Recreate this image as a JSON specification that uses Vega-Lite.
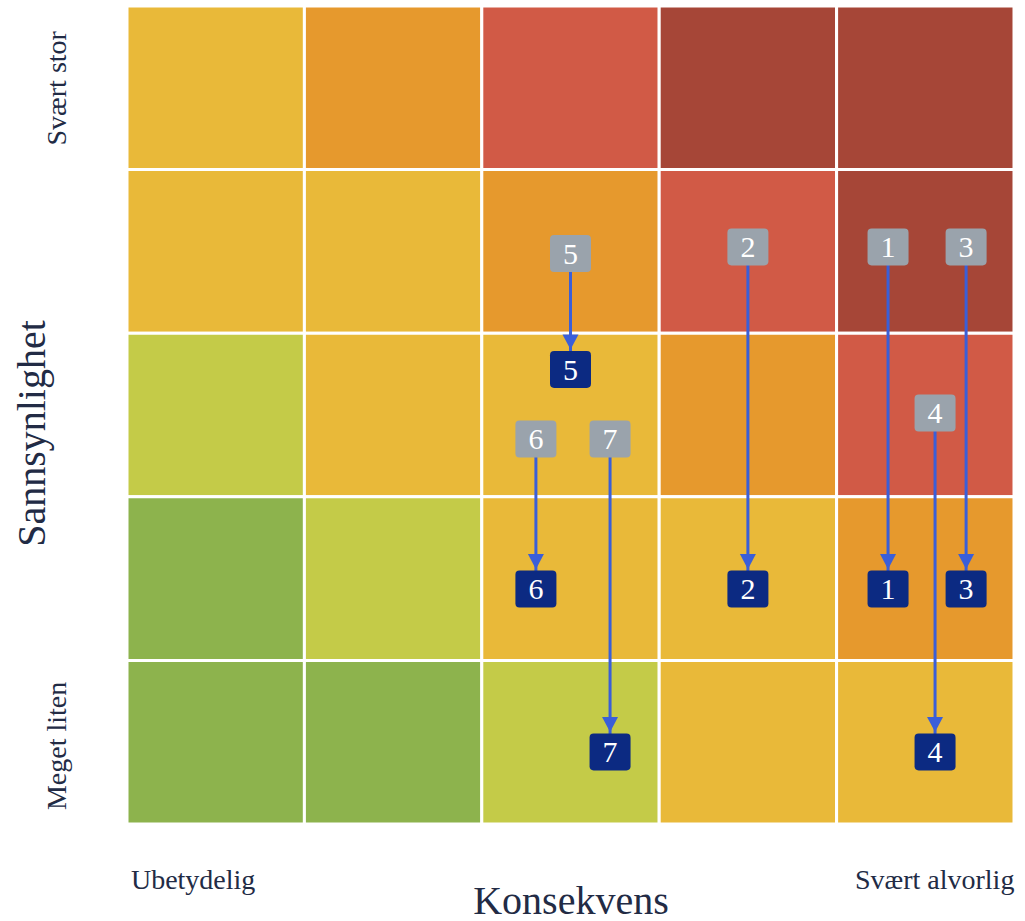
{
  "$schema": "https://vega.github.io/schema/vega-lite/v6.json",
  "width": 887,
  "height": 818,
  "autosize": {"type": "none"},
  "padding": {"left": 127, "top": 6, "right": 11, "bottom": 97},
  "background": "white",
  "config": {"view": {"stroke": null}, "font": "Liberation Serif"},
  "datasets": {
    "cells": [
      {"c_lo": 0, "c_hi": 1, "l_lo": 4, "l_hi": 5, "level": 3},
      {"c_lo": 1, "c_hi": 2, "l_lo": 4, "l_hi": 5, "level": 4},
      {"c_lo": 2, "c_hi": 3, "l_lo": 4, "l_hi": 5, "level": 5},
      {"c_lo": 3, "c_hi": 4, "l_lo": 4, "l_hi": 5, "level": 6},
      {"c_lo": 4, "c_hi": 5, "l_lo": 4, "l_hi": 5, "level": 6},
      {"c_lo": 0, "c_hi": 1, "l_lo": 3, "l_hi": 4, "level": 3},
      {"c_lo": 1, "c_hi": 2, "l_lo": 3, "l_hi": 4, "level": 3},
      {"c_lo": 2, "c_hi": 3, "l_lo": 3, "l_hi": 4, "level": 4},
      {"c_lo": 3, "c_hi": 4, "l_lo": 3, "l_hi": 4, "level": 5},
      {"c_lo": 4, "c_hi": 5, "l_lo": 3, "l_hi": 4, "level": 6},
      {"c_lo": 0, "c_hi": 1, "l_lo": 2, "l_hi": 3, "level": 2},
      {"c_lo": 1, "c_hi": 2, "l_lo": 2, "l_hi": 3, "level": 3},
      {"c_lo": 2, "c_hi": 3, "l_lo": 2, "l_hi": 3, "level": 3},
      {"c_lo": 3, "c_hi": 4, "l_lo": 2, "l_hi": 3, "level": 4},
      {"c_lo": 4, "c_hi": 5, "l_lo": 2, "l_hi": 3, "level": 5},
      {"c_lo": 0, "c_hi": 1, "l_lo": 1, "l_hi": 2, "level": 1},
      {"c_lo": 1, "c_hi": 2, "l_lo": 1, "l_hi": 2, "level": 2},
      {"c_lo": 2, "c_hi": 3, "l_lo": 1, "l_hi": 2, "level": 3},
      {"c_lo": 3, "c_hi": 4, "l_lo": 1, "l_hi": 2, "level": 3},
      {"c_lo": 4, "c_hi": 5, "l_lo": 1, "l_hi": 2, "level": 4},
      {"c_lo": 0, "c_hi": 1, "l_lo": 0, "l_hi": 1, "level": 1},
      {"c_lo": 1, "c_hi": 2, "l_lo": 0, "l_hi": 1, "level": 1},
      {"c_lo": 2, "c_hi": 3, "l_lo": 0, "l_hi": 1, "level": 2},
      {"c_lo": 3, "c_hi": 4, "l_lo": 0, "l_hi": 1, "level": 3},
      {"c_lo": 4, "c_hi": 5, "l_lo": 0, "l_hi": 1, "level": 3}
    ],
    "risks": [
      {"id": "1", "x": 4.29, "before": 3.527, "after": 1.436},
      {"id": "2", "x": 3.5, "before": 3.527, "after": 1.436},
      {"id": "3", "x": 4.73, "before": 3.527, "after": 1.436},
      {"id": "4", "x": 4.555, "before": 2.512, "after": 0.44},
      {"id": "5", "x": 2.5, "before": 3.487, "after": 2.778},
      {"id": "6", "x": 2.305, "before": 2.353, "after": 1.436},
      {"id": "7", "x": 2.723, "before": 2.353, "after": 0.44}
    ]
  },
  "layer": [
    {
      "data": {"name": "cells"},
      "mark": {"type": "rect", "stroke": "white", "strokeWidth": 3},
      "encoding": {
        "x": {
          "field": "c_lo", "type": "quantitative",
          "scale": {"domain": [0, 5], "nice": false, "zero": false},
          "axis": {
            "values": [0.37, 4.55],
            "labelExpr": "datum.value < 1 ? 'Ubetydelig' : 'Svært alvorlig'",
            "ticks": false, "domain": false, "grid": false,
            "labelFontSize": 28, "labelColor": "#222b45", "labelPadding": 42,
            "labelFont": "Liberation Serif",
            "title": "Konsekvens", "titleFontSize": 40, "titleFontWeight": "normal",
            "titleColor": "#222b45", "titleFont": "Liberation Serif",
            "titleY": 89, "titleBaseline": "alphabetic"
          }
        },
        "x2": {"field": "c_hi"},
        "y": {
          "field": "l_lo", "type": "quantitative",
          "scale": {"domain": [0, 5], "nice": false, "zero": false},
          "axis": {
            "values": [0.48, 4.5],
            "labelExpr": "datum.value < 1 ? 'Meget liten' : 'Svært stor'",
            "ticks": false, "domain": false, "grid": false,
            "labelAngle": -90, "labelAlign": "center", "labelBaseline": "bottom",
            "labelFontSize": 28, "labelColor": "#222b45", "labelPadding": 56,
            "labelFont": "Liberation Serif",
            "title": "Sannsynlighet", "titleFontSize": 40, "titleFontWeight": "normal",
            "titleColor": "#222b45", "titleFont": "Liberation Serif",
            "titleX": -83, "titleY": 427, "titleBaseline": "alphabetic"
          }
        },
        "y2": {"field": "l_hi"},
        "color": {
          "field": "level", "type": "ordinal", "legend": null,
          "scale": {
            "domain": [1, 2, 3, 4, 5, 6],
            "range": ["#8db34d", "#c4cb48", "#e9b939", "#e6992d", "#d15a46", "#a64637"]
          }
        }
      }
    },
    {
      "data": {"name": "risks"},
      "mark": {"type": "rule", "color": "#3a5fd8", "strokeWidth": 3},
      "encoding": {
        "x": {"field": "x", "type": "quantitative"},
        "y": {"field": "before", "type": "quantitative"},
        "y2": {"field": "after"}
      }
    },
    {
      "data": {"name": "risks"},
      "mark": {"type": "point", "shape": "M-1,-0.95L1,-0.95L0,0.95Z", "size": 256, "filled": true, "color": "#3a5fd8", "opacity": 1, "yOffset": -27.5},
      "encoding": {
        "x": {"field": "x", "type": "quantitative"},
        "y": {"field": "after", "type": "quantitative"}
      }
    },
    {
      "data": {"name": "risks"},
      "mark": {"type": "point", "shape": "M-0.8,-0.9L0.8,-0.9Q1,-0.9 1,-0.7L1,0.7Q1,0.9 0.8,0.9L-0.8,0.9Q-1,0.9 -1,0.7L-1,-0.7Q-1,-0.9 -0.8,-0.9Z", "size": 1681, "filled": true, "color": "#9aa3ac", "opacity": 1},
      "encoding": {
        "x": {"field": "x", "type": "quantitative"},
        "y": {"field": "before", "type": "quantitative"}
      }
    },
    {
      "data": {"name": "risks"},
      "mark": {"type": "point", "shape": "M-0.8,-0.9L0.8,-0.9Q1,-0.9 1,-0.7L1,0.7Q1,0.9 0.8,0.9L-0.8,0.9Q-1,0.9 -1,0.7L-1,-0.7Q-1,-0.9 -0.8,-0.9Z", "size": 1681, "filled": true, "color": "#0c2a82", "opacity": 1},
      "encoding": {
        "x": {"field": "x", "type": "quantitative"},
        "y": {"field": "after", "type": "quantitative"}
      }
    },
    {
      "data": {"name": "risks"},
      "mark": {"type": "text", "color": "white", "fontSize": 30, "font": "Liberation Serif", "baseline": "middle", "dy": 1},
      "encoding": {
        "x": {"field": "x", "type": "quantitative"},
        "y": {"field": "before", "type": "quantitative"},
        "text": {"field": "id"}
      }
    },
    {
      "data": {"name": "risks"},
      "mark": {"type": "text", "color": "white", "fontSize": 30, "font": "Liberation Serif", "baseline": "middle", "dy": 1},
      "encoding": {
        "x": {"field": "x", "type": "quantitative"},
        "y": {"field": "after", "type": "quantitative"},
        "text": {"field": "id"}
      }
    }
  ]
}
